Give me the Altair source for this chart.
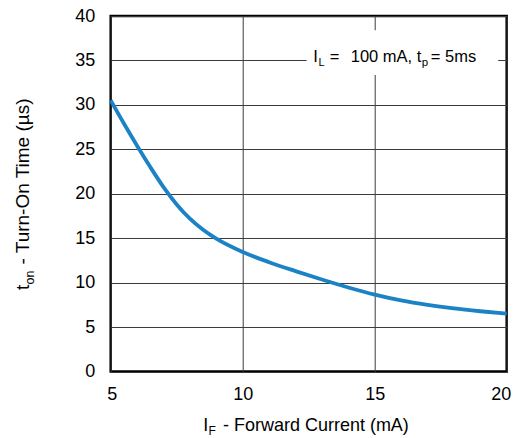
import altair as alt
import pandas as pd

# Data
forward_current = [5, 5.5, 6, 6.5, 7, 7.5, 8, 8.5, 9, 10, 11, 12, 13, 14, 15, 16, 17, 18, 19, 20]
turn_on_time = [30.5, 27.9, 25.4, 23.0, 20.75, 18.8, 17.2, 15.95, 14.95, 13.45, 12.3, 11.3, 10.35,
                9.45, 8.65, 8.0, 7.5, 7.1, 6.78, 6.5]
x_ticks = [5, 10, 15, 20]
y_ticks = [0, 5, 10, 15, 20, 25, 30, 35, 40]

FONT = "Liberation Sans"
W, H = 396, 355.5

df = pd.DataFrame({"IF": forward_current, "ton": turn_on_time})

xs = alt.Scale(domain=[5, 20], nice=False, zero=False)
ys = alt.Scale(domain=[0, 40], nice=False, zero=False)


def axis(vals, pad, flush):
    extra = {"labelFlush": True, "labelFlushOffset": 4} if flush else {"labelFlush": False}
    return alt.Axis(values=vals, grid=True, gridColor="#3a3a3a", gridWidth=1, gridOpacity=1,
                    ticks=False, domain=False, labelFont=FONT, labelFontSize=18,
                    labelColor="black", labelPadding=pad,
                    labelOverlap=False, labelBound=False, title=None, **extra)


def X(field):
    return alt.X(field, type="quantitative", scale=xs, axis=axis(x_ticks, 14, True))


def Y(field):
    return alt.Y(field, type="quantitative", scale=ys, axis=axis(y_ticks, 16, False))


line = alt.Chart(df).mark_line(color="#1b82c5", strokeWidth=3.8, interpolate="monotone").encode(
    x=X("IF"), y=Y("ton")
)

# white box behind the annotation
box = pd.DataFrame({"IF": [12.42], "IF2": [19.68], "ton": [33.35], "ton2": [38.4]})
rect = alt.Chart(box).mark_rect(fill="white", opacity=1).encode(
    x=X("IF"), x2="IF2", y=Y("ton"), y2="ton2"
)

anchor = pd.DataFrame({"IF": [12.675], "ton": [35.0]})


def ann(text, dx, dy=1.5, size=16.5, align="left"):
    return alt.Chart(anchor).mark_text(text=text, font=FONT, fontSize=size, color="black",
                                       align=align, baseline="alphabetic", dx=dx, dy=dy).encode(
        x=X("IF"), y=Y("ton")
    )


annotation = [
    ann("I", 0),
    ann("L", 5.2, 5.5, 11),
    ann("=", 16.5),
    ann("100 mA, t", 37.4),
    ann("p", 108.5, 6.0, 11.5),
    ann("= 5ms", 117.5),
]

one = pd.DataFrame({"a": [0]})


def label(text, x, y, size=18, align="left", angle=0):
    return alt.Chart(one).mark_text(text=text, font=FONT, fontSize=size, color="black",
                                    align=align, baseline="alphabetic", angle=angle).encode(
        x=alt.value(x), y=alt.value(y)
    )


titles = [
    # x title
    label("I", 92.6, 414.7),
    label("F", 97.8, 418.7, 12),
    label("- Forward Current (mA)", 112.3, 414.7),
    # y title (rotated)
    label("- Turn-On Time (µs)", -81.4, 248.5, size=19, angle=270),
    label("on", -76.8, 254.5, 12.5, align="right", angle=270),
    label("t", -81.4, 268.8, size=19, align="right", angle=270),
]

chart = alt.layer(rect, line, *annotation, *titles).properties(
    width=W, height=H,
    autosize=alt.AutoSizeParams(type="none"),
    padding={"left": 102.7, "top": 8, "right": 4, "bottom": 66},
).configure_view(stroke="black", strokeWidth=2.5)

chart.save("out.html", embed_options={"renderer": "svg", "actions": False})
